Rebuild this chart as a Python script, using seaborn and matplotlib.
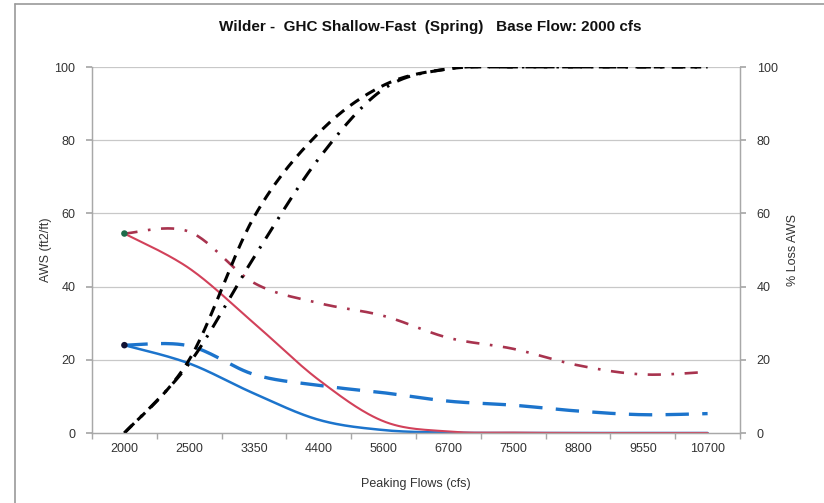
import numpy as np
import pandas as pd
import matplotlib
matplotlib.use("Agg")
import matplotlib.pyplot as plt
from matplotlib.lines import Line2D
import seaborn as sns

# ---- data ----
flows = ["2000", "2500", "3350", "4400", "5600", "6700", "7500", "8800", "9550", "10700"]
aws_red = [54.5, 45.0, 30.0, 14.5, 3.2, 0.4, 0.1, 0.0, 0.0, 0.0]
aws_blue = [24.0, 19.0, 10.8, 3.6, 0.8, 0.1, 0.0, 0.0, 0.0, 0.0]
aws_blue_dash = [24.0, 23.8, 16.0, 13.0, 11.0, 8.7, 7.6, 6.0, 5.0, 5.3]
aws_red_dashdot = [54.5, 55.0, 41.0, 35.5, 32.0, 26.0, 23.0, 18.5, 16.0, 16.7]
loss_dash = [0.0, 20.0, 59.0, 82.0, 95.0, 99.5, 100.0, 100.0, 100.0, 100.0]
loss_dashdot = [0.0, 19.0, 48.0, 75.0, 94.0, 99.5, 100.0, 100.0, 100.0, 100.0]
yticks = [0, 20, 40, 60, 80, 100]

title = "Wilder -  GHC Shallow-Fast  (Spring)   Base Flow: 2000 cfs"


def smooth(vals, n=30):
    """Excel-style smoothed line rendering (Catmull-Rom Bezier through the data points)."""
    x = np.arange(len(vals), dtype=float)
    y = np.asarray(vals, dtype=float)
    xs, ys = [], []
    for i in range(len(x) - 1):
        p0 = np.array([x[max(i - 1, 0)], y[max(i - 1, 0)]])
        p1 = np.array([x[i], y[i]])
        p2 = np.array([x[i + 1], y[i + 1]])
        p3 = np.array([x[min(i + 2, len(x) - 1)], y[min(i + 2, len(x) - 1)]])
        c1 = p1 + (p2 - p0) / 6.0
        c2 = p2 - (p3 - p1) / 6.0
        t = np.linspace(0, 1, n, endpoint=(i == len(x) - 2))[:, None]
        b = (1 - t) ** 3 * p1 + 3 * (1 - t) ** 2 * t * c1 + 3 * (1 - t) * t ** 2 * c2 + t ** 3 * p2
        xs.append(b[:, 0]); ys.append(b[:, 1])
    return pd.DataFrame({"x": np.concatenate(xs), "y": np.concatenate(ys)})


sns.set_theme(style="white")
plt.rcParams["font.family"] = ["Liberation Sans", "DejaVu Sans"]

fig = plt.figure(figsize=(8.24, 5.03), dpi=100)
ax = fig.add_axes([92 / 824, 1 - 433 / 503, (740 - 92) / 824, (433 - 67) / 503])
ax2 = ax.twinx()

grid_c = "#C8C8C8"
for v in yticks[1:]:
    ax.axhline(v, color=grid_c, lw=0.9, zorder=0)

red = "#D2415A"
blue = "#1C74CC"
red_dd = "#A8334E"

sns.lineplot(data=smooth(aws_blue_dash), x="x", y="y", ax=ax, color=blue, lw=2.4,
             sort=False, estimator=None).lines[-1].set_dashes([7, 4])
sns.lineplot(data=smooth(aws_red_dashdot), x="x", y="y", ax=ax, color=red_dd, lw=1.9,
             sort=False, estimator=None).lines[-1].set_dashes([5, 4, 1, 4])
sns.lineplot(data=smooth(aws_blue), x="x", y="y", ax=ax, color=blue, lw=1.8,
             sort=False, estimator=None)
sns.lineplot(data=smooth(aws_red), x="x", y="y", ax=ax, color=red, lw=1.5,
             sort=False, estimator=None)
sns.scatterplot(x=[0], y=[aws_red[0]], ax=ax, color="#1E6B4A", s=22, zorder=5, edgecolor="none")
sns.scatterplot(x=[0], y=[aws_blue[0]], ax=ax, color="#111133", s=22, zorder=5, edgecolor="none")

sns.lineplot(data=smooth(loss_dash), x="x", y="y", ax=ax2, color="black", lw=2.2,
             sort=False, estimator=None).lines[-1].set_dashes([3.5, 2.5])
sns.lineplot(data=smooth(loss_dashdot), x="x", y="y", ax=ax2, color="black", lw=2.2,
             sort=False, estimator=None).lines[-1].set_dashes([4.5, 3, 0.8, 3])

for a in (ax, ax2):
    a.set_xlim(-0.5, len(flows) - 0.5)
    a.set_ylim(0, 100)
    a.set_yticks(yticks)
    for s in a.spines.values():
        s.set_color("#A8A8A8")
        s.set_linewidth(0.9)
    a.spines["top"].set_visible(False)
    a.set_xlabel("")
    a.set_ylabel("")

ax.set_xticks(range(len(flows)))
ax.set_xticklabels(flows, fontsize=9, color="#333333")
ax.set_xticks(np.arange(-0.5, len(flows), 1.0), minor=True)
ax.tick_params(axis="x", which="major", length=0, pad=7)
ax.tick_params(axis="x", which="minor", length=4, color="#A8A8A8", direction="out", bottom=True)
ax.tick_params(axis="y", length=4, color="#A8A8A8", direction="out", left=True, labelsize=9,
               labelcolor="#333333", pad=8)
ax2.tick_params(axis="y", length=4, color="#A8A8A8", direction="out", right=True, labelsize=9,
                labelcolor="#333333", pad=8)
ax.set_yticklabels([str(v) for v in yticks])
ax2.set_yticklabels([str(v) for v in yticks])

ax.set_xlabel("Peaking Flows (cfs)", fontsize=9, color="#333333", labelpad=17)
ax.set_ylabel("AWS (ft2/ft)", fontsize=9, color="#333333", labelpad=2)
ax2.set_ylabel("% Loss AWS", fontsize=9, color="#333333", rotation=90, labelpad=7)

fig.text(430 / 824, 1 - 27 / 503, title, ha="center", va="center", fontsize=11,
         fontweight="bold", color="#111111")

# chart-area frame (left and top edges visible)
fig.add_artist(Line2D([15 / 824, 15 / 824], [0, 1 - 4 / 503], transform=fig.transFigure,
                      color="#9A9A9A", lw=1.2))
fig.add_artist(Line2D([15 / 824, 1], [1 - 4 / 503, 1 - 4 / 503], transform=fig.transFigure,
                      color="#9A9A9A", lw=1.2))

fig.savefig("out.png", dpi=100)
